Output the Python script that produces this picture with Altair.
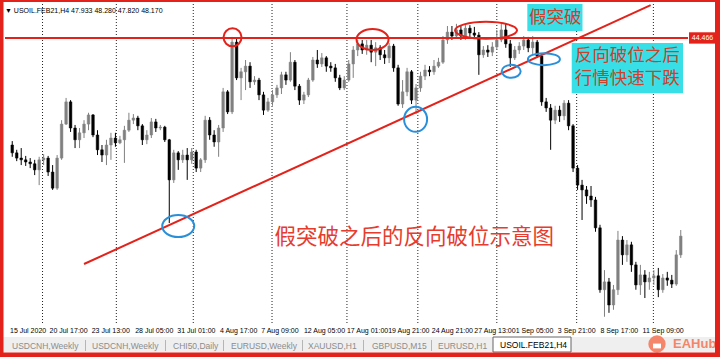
import altair as alt
import pandas as pd

# ---------------- data (USOIL.FEB21, H4 candles) ----------------
opens = [42.01, 41.83, 41.71, 41.67, 41.62, 41.58, 41.44, 41.67, 41.71, 41.39,
         41.02, 41.71, 42.49, 43.00, 42.40, 42.13, 42.29, 42.49, 42.70, 42.24,
         41.90, 41.78, 42.01, 42.17, 42.06, 42.13, 42.35, 42.58, 42.63, 42.45,
         42.13, 42.24, 42.54, 42.40, 42.42, 42.13, 41.21, 41.83, 41.67, 41.78,
         41.67, 41.85, 41.48, 41.67, 42.58, 42.24, 42.08, 42.40, 43.23, 42.77,
         44.37, 43.55, 43.69, 43.82, 43.46, 43.50, 43.16, 42.81, 43.00, 43.16,
         43.32, 43.62, 43.50, 43.91, 43.36, 43.04, 43.16, 43.50, 43.96, 43.87,
         44.01, 43.82, 43.78, 43.55, 43.32, 43.50, 43.87, 44.19, 44.33, 44.19,
         44.30, 44.14, 44.24, 44.08, 44.01, 44.28, 43.78, 42.95, 43.23, 43.69,
         43.04, 43.32, 43.59, 43.73, 43.69, 43.82, 43.91, 44.42, 44.60, 44.51,
         44.65, 44.51, 44.69, 44.58, 44.53, 44.08, 44.19, 44.14, 44.26, 44.42,
         44.65, 44.33, 44.01, 44.19, 44.28, 44.42, 44.24, 44.37, 44.05, 43.00,
         42.86, 42.58, 42.81, 42.68, 42.97, 42.45, 41.48, 41.09, 40.98, 40.84,
         40.75, 40.11, 38.69, 38.87, 38.34, 38.69, 39.83, 39.49, 39.72, 39.26,
         38.80, 39.03, 38.87, 38.96, 39.01, 38.69, 38.96, 38.91, 38.82, 39.49]
closes = [41.83, 41.71, 41.67, 41.62, 41.58, 41.44, 41.67, 41.71, 41.39, 41.02,
          41.71, 42.49, 43.00, 42.40, 42.13, 42.29, 42.49, 42.70, 42.24, 41.90,
          41.78, 42.01, 42.17, 42.06, 42.13, 42.35, 42.58, 42.63, 42.45, 42.13,
          42.24, 42.54, 42.40, 42.42, 42.13, 41.21, 41.83, 41.67, 41.78, 41.67,
          41.85, 41.48, 41.67, 42.58, 42.24, 42.08, 42.40, 43.23, 42.77, 44.37,
          43.55, 43.69, 43.82, 43.46, 43.50, 43.16, 42.81, 43.00, 43.16, 43.32,
          43.62, 43.50, 43.91, 43.36, 43.04, 43.16, 43.50, 43.96, 43.87, 44.01,
          43.82, 43.78, 43.55, 43.32, 43.50, 43.87, 44.19, 44.33, 44.19, 44.30,
          44.14, 44.24, 44.08, 44.01, 44.28, 43.78, 42.95, 43.23, 43.69, 43.04,
          43.32, 43.59, 43.73, 43.69, 43.82, 43.91, 44.42, 44.60, 44.51, 44.65,
          44.51, 44.69, 44.58, 44.53, 44.08, 44.19, 44.14, 44.26, 44.42, 44.65,
          44.33, 44.01, 44.19, 44.28, 44.42, 44.24, 44.37, 44.05, 43.00, 42.86,
          42.58, 42.81, 42.68, 42.97, 42.45, 41.48, 41.09, 40.98, 40.84, 40.75,
          40.11, 38.69, 38.87, 38.34, 38.69, 39.83, 39.49, 39.72, 39.26, 38.80,
          39.03, 38.87, 38.96, 39.01, 38.69, 38.96, 38.91, 38.82, 39.49, 39.92]
highs = [42.10, 41.90, 41.94, 41.76, 41.71, 41.67, 41.74, 41.80, 41.76, 41.55,
         41.78, 42.58, 43.09, 43.04, 42.47, 42.40, 42.58, 42.75, 42.72, 42.35,
         42.01, 42.13, 42.29, 42.29, 42.22, 42.45, 42.75, 42.72, 42.68, 42.49,
         42.35, 42.63, 42.61, 42.47, 42.45, 42.15, 41.90, 41.87, 41.90, 41.94,
         41.94, 41.90, 41.71, 42.68, 42.65, 42.35, 42.47, 43.32, 43.27, 44.49,
         44.46, 43.78, 43.96, 43.91, 43.59, 43.55, 43.23, 43.09, 43.27, 43.39,
         43.69, 43.69, 44.14, 43.96, 43.41, 43.23, 43.55, 44.03, 44.19, 44.12,
         44.05, 43.91, 43.87, 43.62, 43.59, 43.96, 44.28, 44.42, 44.42, 44.42,
         44.42, 44.37, 44.30, 44.19, 44.35, 44.33, 43.85, 43.50, 43.78, 43.73,
         43.41, 43.69, 43.85, 43.82, 43.96, 44.01, 44.51, 44.74, 44.74, 44.79,
         44.76, 44.79, 44.76, 44.72, 44.60, 44.28, 44.30, 44.37, 44.65, 44.79,
         44.81, 44.42, 44.28, 44.37, 44.51, 44.49, 44.51, 44.42, 44.10, 43.09,
         42.95, 42.91, 42.91, 43.04, 43.04, 42.49, 41.55, 41.21, 41.07, 41.07,
         40.82, 40.18, 39.14, 38.96, 38.80, 40.04, 39.92, 39.83, 39.79, 39.33,
         39.26, 39.14, 39.10, 39.14, 39.19, 39.05, 39.10, 39.03, 39.60, 40.06]
lows = [41.74, 41.64, 41.55, 41.53, 41.48, 41.32, 41.09, 41.55, 41.30, 40.98,
        40.98, 41.67, 42.47, 42.31, 41.94, 41.94, 42.17, 42.35, 42.19, 41.78,
        41.62, 41.55, 41.67, 41.97, 42.03, 41.60, 42.31, 42.49, 42.35, 42.01,
        42.03, 42.17, 42.31, 42.35, 42.08, 40.22, 41.14, 41.44, 41.60, 41.21,
        41.58, 41.39, 41.39, 41.60, 42.13, 41.97, 41.74, 42.31, 42.72, 42.72,
        43.50, 43.04, 43.27, 43.32, 43.39, 43.04, 42.70, 42.77, 42.91, 43.09,
        43.18, 43.39, 43.46, 43.27, 42.93, 42.95, 43.11, 43.46, 43.78, 43.80,
        43.69, 43.69, 43.46, 43.27, 43.27, 43.46, 43.55, 44.05, 44.10, 44.08,
        43.91, 43.82, 43.96, 43.87, 43.89, 43.69, 42.91, 42.86, 43.13, 42.95,
        42.72, 43.23, 43.50, 43.59, 43.62, 43.78, 43.87, 44.33, 44.42, 44.46,
        44.42, 44.42, 44.49, 44.46, 43.62, 44.01, 44.03, 44.05, 44.19, 44.37,
        44.24, 43.80, 43.96, 44.10, 44.19, 44.14, 44.10, 44.01, 42.91, 42.77,
        41.90, 42.49, 42.54, 42.58, 42.35, 41.39, 40.98, 40.29, 40.66, 40.59,
        40.02, 38.62, 38.07, 38.16, 38.23, 38.57, 39.26, 39.33, 39.10, 38.69,
        38.57, 38.50, 38.69, 38.80, 38.52, 38.62, 38.78, 38.73, 38.78, 39.42]

price_ticks = [45.045, 44.025, 43.515, 43.020, 42.510, 42.000, 41.505, 40.995,
               40.485, 39.975, 39.460, 38.970, 38.460, 37.965]
time_labels = ["15 Jul 2020", "20 Jul 17:00", "23 Jul 13:00", "28 Jul 05:00",
               "31 Jul 01:00", "4 Aug 17:00", "7 Aug 09:00", "12 Aug 05:00",
               "17 Aug 01:00", "19 Aug 21:00", "24 Aug 21:00", "27 Aug 13:00",
               "1 Sep 05:00", "3 Sep 21:00", "8 Sep 17:00", "11 Sep 09:00"]
time_label_bar = [-0.5, 8.3, 17.7, 27.4, 36.8, 46.3, 55.5, 65.0, 74.6, 83.8,
                  93.5, 103.0, 112.2, 121.6, 131.1, 140.5]
week_start_bar = [6.75, 23.2, 40.35, 57.9, 74.6, 90.4, 108.0, 125.8, 142.9]

resistance = 44.466
trend_bar = [16.0, 142.3]
trend_price = [39.28, 45.22]

false_break_bar = [49.1, 80.3, 105.6]
false_break_price = [44.48, 44.43, 44.64]
break_bar = [37.0, 89.9, 111.2, 118.5]
break_price = [40.15, 42.60, 43.70, 43.98]

title_text = "▼ USOIL.FEB21,H4  47.933 48.280 47.820 48.170"
note1 = "假突破"
note2 = ["反向破位之后", "行情快速下跌"]
main_note = "假突破之后的反向破位示意图"
tabs = ["USDCNH,Weekly", "USDCNH,Weekly", "CHI50,Daily", "EURUSD,Weekly",
        "XAUUSD,H1", "GBPUSD,M15", "EURUSD,H1"]
active_tab = "USOIL.FEB21,H4"

# ---------------- styles / layout ----------------
W, H = 683, 321
RED = "#e3231b"
BLUE = "#2a8fd9"
CYAN = "#38dfe6"
NOTE_RED = "#c9432c"
FONT = "Liberation Sans, DejaVu Sans"
CJK = "Noto Sans CJK SC"

xs = alt.Scale(domain=[-0.5, 149.5], nice=False, zero=False)
ys = alt.Scale(domain=[37.881, 45.245], nice=False, zero=False)
NOX = alt.X("x:Q", scale=xs, axis=None)

candles = pd.DataFrame({"i": list(range(len(opens))), "o": opens, "h": highs,
                        "l": lows, "c": closes})
candles["dir"] = ["up" if c >= o else "down" for o, c in zip(opens, closes)]
dir_scale = alt.Scale(domain=["up", "down"], range=["#808080", "#000000"])

wicks = alt.Chart(candles).mark_rule(strokeWidth=1).encode(
    x=alt.X("i:Q", scale=xs, title=None,
            axis=alt.Axis(values=time_label_bar, labels=False, tickSize=3,
                          tickColor="#000", domainColor="#000", grid=False)),
    y=alt.Y("l:Q", scale=ys, title=None,
            axis=alt.Axis(orient="right", values=price_ticks, format=".3f",
                          labelFontSize=7, labelFont=FONT, labelColor="#000",
                          tickColor="#000", tickSize=3, domainColor="#000",
                          labelPadding=2, grid=False)),
    y2="h:Q",
    color=alt.Color("dir:N", scale=dir_scale, legend=None),
)
bodies = alt.Chart(candles).mark_bar(size=2.6, orient="vertical", strokeWidth=0.5).encode(
    x=alt.X("i:Q", scale=xs, axis=None),
    y=alt.Y("o:Q", scale=ys, axis=None),
    y2="c:Q",
    color=alt.Color("dir:N", scale=dir_scale, legend=None),
    stroke=alt.Stroke("dir:N", scale=dir_scale, legend=None),
)

grid = alt.Chart(pd.DataFrame({"x": week_start_bar})).mark_rule(
    strokeDash=[1, 2], color="#222", strokeWidth=1).encode(x=NOX)

tlabels = alt.Chart(pd.DataFrame({"x": time_label_bar, "t": time_labels})).mark_text(
    align="left", baseline="middle", fontSize=7, font=FONT, color="#000"
).encode(x=NOX, y=alt.value(H + 6), text="t:N")

hline = alt.Chart(pd.DataFrame({"y": [resistance]})).mark_rule(
    color=RED, strokeWidth=2).encode(y=alt.Y("y:Q", scale=ys, axis=None))

trend = alt.Chart(pd.DataFrame({"x": [trend_bar[0]], "x2": [trend_bar[1]],
                                "y": [trend_price[0]], "y2": [trend_price[1]]})).mark_rule(
    color=RED, strokeWidth=2).encode(x=NOX, x2="x2:Q",
                                     y=alt.Y("y:Q", scale=ys, axis=None), y2="y2:Q")


def ellipse_path(w, h):
    m = max(w, h)
    rx, ry, k = w / m, h / m, 0.5523
    f = lambda v: f"{v:.4f}"
    return (f"M {f(rx)} 0 C {f(rx)} {f(k*ry)} {f(k*rx)} {f(ry)} 0 {f(ry)} "
            f"C {f(-k*rx)} {f(ry)} {f(-rx)} {f(k*ry)} {f(-rx)} 0 "
            f"C {f(-rx)} {f(-k*ry)} {f(-k*rx)} {f(-ry)} 0 {f(-ry)} "
            f"C {f(k*rx)} {f(-ry)} {f(rx)} {f(-k*ry)} {f(rx)} 0 Z"), m * m


red_sizes = [(18, 18), (32, 21), (62, 17)]
blue_sizes = [(32, 22), (23, 25), (19, 13), (32, 12)]
ellipses = []
for xs_, ys_, sizes, col in [(false_break_bar, false_break_price, red_sizes, RED),
                              (break_bar, break_price, blue_sizes, BLUE)]:
    for bx, py, (w, h) in zip(xs_, ys_, sizes):
        path, sz = ellipse_path(w, h)
        ellipses.append(
            alt.Chart(pd.DataFrame({"x": [bx], "y": [py]})).mark_point(
                shape=path, size=sz, filled=False, stroke=col, strokeWidth=2,
                opacity=1).encode(x=NOX, y=alt.Y("y:Q", scale=ys, axis=None)))

# price tag of the horizontal line
tag_path = "M -1 -0.42 L 1 -0.42 L 1 0.42 L -1 0.42 Z"
tag = alt.Chart(pd.DataFrame({"y": [resistance]})).mark_point(
    shape=tag_path, size=27 * 27, filled=True, color=RED, opacity=1).encode(
    x=alt.value(W + 14.5), y=alt.Y("y:Q", scale=ys, axis=None))
tag_text = alt.Chart(pd.DataFrame({"y": [resistance], "t": [f"{resistance:.3f}"]})).mark_text(
    fontSize=7, font=FONT, color="white", align="center", baseline="middle").encode(
    x=alt.value(W + 14.5), y=alt.Y("y:Q", scale=ys, axis=None), text="t:N")

# annotation boxes (in chart coordinates)
box_df = pd.DataFrame({"x": [114.8, 124.7], "x2": [127.1, 149.5],
                       "y": [44.625, 43.20], "y2": [45.245, 44.35]})
boxes = alt.Chart(box_df).mark_rect(color=CYAN, opacity=1).encode(
    x=NOX, x2="x2:Q", y=alt.Y("y:Q", scale=ys, axis=None), y2="y2:Q")
n1 = alt.Chart(pd.DataFrame({"x": [121.0], "y": [44.92], "t": [note1]})).mark_text(
    fontSize=17.5, font=CJK, color=NOTE_RED, baseline="middle").encode(
    x=NOX, y=alt.Y("y:Q", scale=ys, axis=None), text="t:N")
n2 = alt.Chart(pd.DataFrame({"x": [137.1, 137.1], "y": [44.05, 43.53], "t": note2})).mark_text(
    fontSize=17.5, font=CJK, color=NOTE_RED, baseline="middle").encode(
    x=NOX, y=alt.Y("y:Q", scale=ys, axis=None), text="t:N")
n3 = alt.Chart(pd.DataFrame({"x": [89.6], "y": [39.87], "t": [main_note]})).mark_text(
    fontSize=21.5, font=CJK, color="#e63c2e", baseline="middle").encode(
    x=NOX, y=alt.Y("y:Q", scale=ys, axis=None), text="t:N")

title = alt.Chart(pd.DataFrame({"t": [title_text]})).mark_text(
    align="left", baseline="middle", fontSize=7, font=FONT, color="#000").encode(
    x=alt.value(0), y=alt.value(7), text="t:N")


# ---------------- window chrome: tab bar, logo, red frame ----------------
def rect(x1, x2, y1, y2, **kw):
    return alt.Chart(pd.DataFrame({"a": [0]})).mark_rect(**kw).encode(
        x=alt.value(x1), x2=alt.value(x2), y=alt.value(y1), y2=alt.value(y2))


def label(txt, x, y, **kw):
    return alt.Chart(pd.DataFrame({"t": [txt]})).mark_text(**kw).encode(
        x=alt.value(x), y=alt.value(y), text="t:N")


chrome = [rect(-2, 710, 333, 348.5, color="#efefef")]
tab_x = [7, 87, 168, 226, 303, 367, 433]
sep_x = [80, 160, 218, 297, 358, 426]
for t, tx in zip(tabs, tab_x):
    chrome.append(label(t, tx, 342, align="left", baseline="middle", fontSize=8.5,
                        font=FONT, color="#8c8c8c"))
for sx in sep_x:
    chrome.append(rect(sx, sx + 1, 336, 347, color="#b5b5b5"))
chrome.append(rect(488, 566, 333, 348, fill="white", stroke="#666", strokeWidth=1))
chrome.append(label(active_tab, 495, 341, align="left", baseline="middle", fontSize=8.5,
                    font=FONT, color="#000"))
chrome.append(alt.Chart(pd.DataFrame({"a": [0]})).mark_point(
    shape="circle", size=300, filled=True, color="#f47a5c", opacity=0.9).encode(
    x=alt.value(652), y=alt.value(340)))
chrome.append(alt.Chart(pd.DataFrame({"a": [0]})).mark_point(
    shape="M -1 -0.6 L 1 -0.6 L 1 0.6 L -1 0.6 Z", size=64, filled=True, color="white",
    opacity=1).encode(x=alt.value(652), y=alt.value(342)))
chrome.append(label("EAHub", 668, 340, align="left", baseline="middle", fontSize=13,
                    fontWeight="bold", font=FONT, color="#f47a5c", opacity=0.9))
chrome += [rect(-5, 715, -4, -2, color=RED), rect(-5, -1.5, -4, 353, color=RED),
           rect(710, 715, -4, 353, color=RED), rect(-5, 715, 348.5, 353, color=RED)]

chart = alt.layer(
    grid, wicks, bodies, hline, trend, *ellipses, boxes, n1, n2, n3, tag, tag_text,
    tlabels, title, *chrome
).properties(
    width=W, height=H,
    padding={"left": 5, "top": 4, "right": 32, "bottom": 32},
    autosize=alt.AutoSizeParams(type="none"),
    background="white",
).configure_view(stroke=None)

chart.save("out.html", embed_options={"renderer": "svg", "actions": False})
